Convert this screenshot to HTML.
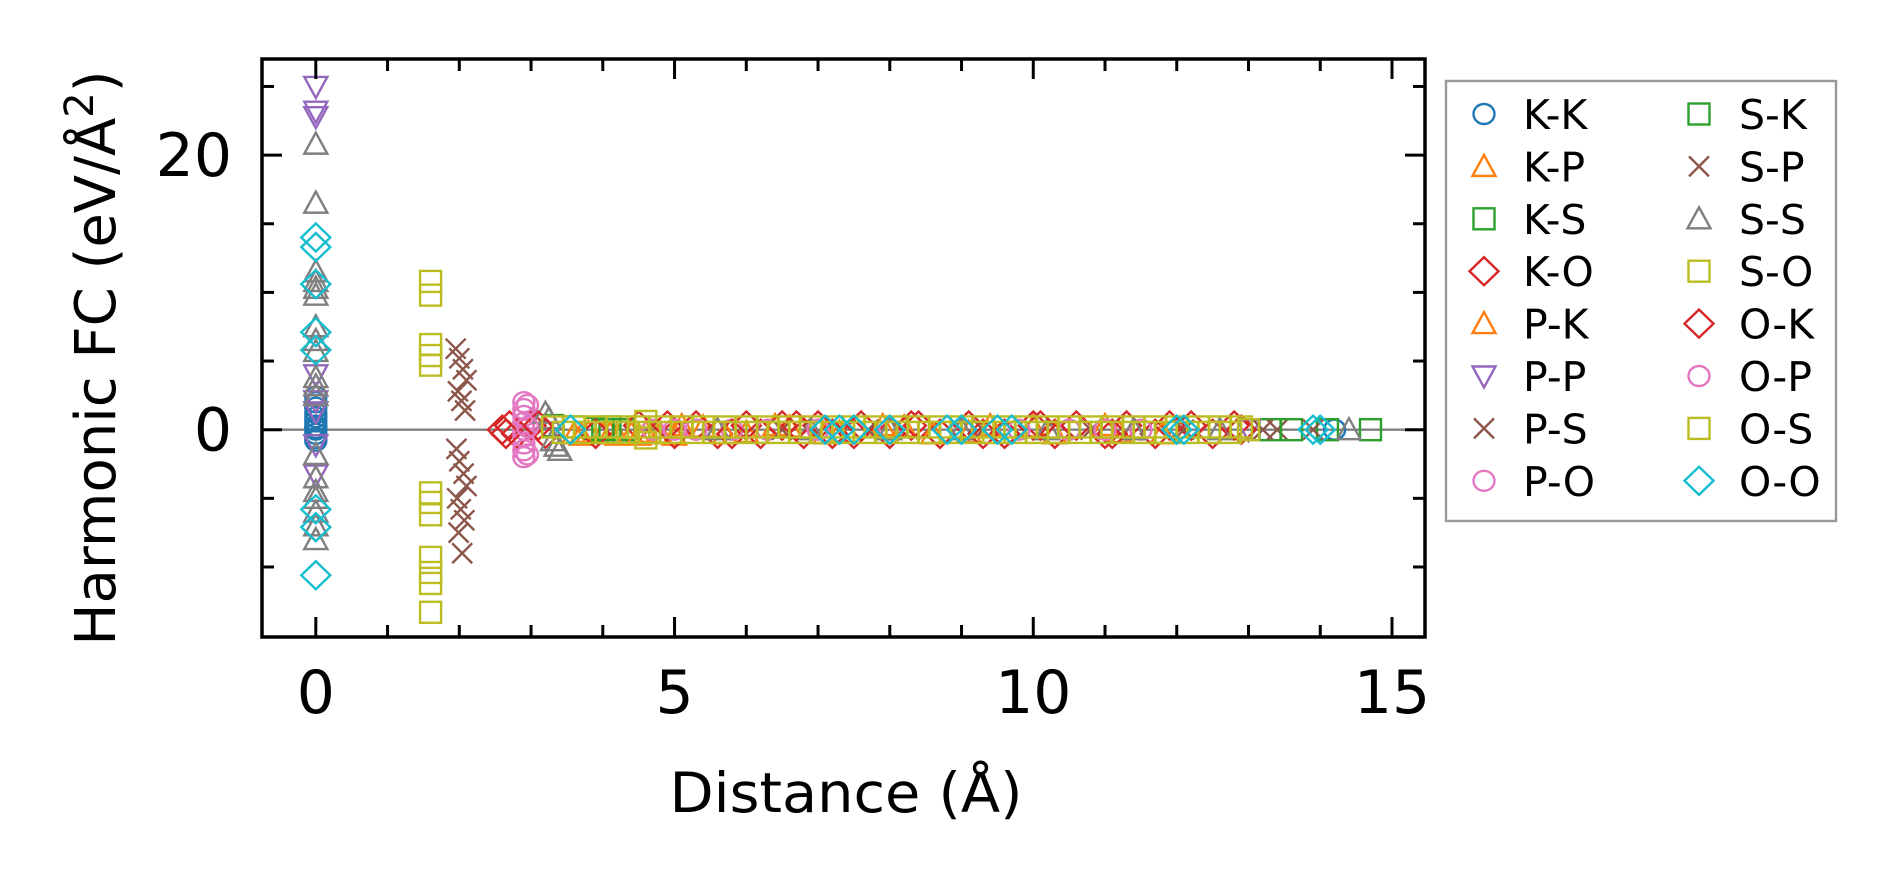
<!DOCTYPE html>
<html><head><meta charset="utf-8"><style>
html,body{margin:0;padding:0;background:#fff;}
svg{display:block;font-family:"DejaVu Sans","Liberation Sans",sans-serif;}
</style></head><body>
<svg id="chart" width="1895" height="883" viewBox="0 0 1895 883" xmlns="http://www.w3.org/2000/svg">
<rect x="0" y="0" width="1895" height="883" fill="#fff"/>
<g id="marks"></g>
<g id="axes"></g>
<text x="846" y="812" font-size="55" text-anchor="middle" textLength="353" lengthAdjust="spacingAndGlyphs">Distance (Å)</text>
<text transform="translate(115,358) rotate(-90)" font-size="56" text-anchor="middle">Harmonic FC (eV/Å<tspan dy="-22" font-size="40">2</tspan><tspan dy="22">)</tspan></text>
<g id="legend"></g>
</svg>
<script>
// ---- data ----
const xTicksMajor=[0,5,10,15];
const xTickLabels=["0","5","10","15"];
const yTicksMajor=[0,20];
const yTickLabels=["0","20"];
const legendNames=["K-K","K-P","K-S","K-O","P-K","P-P","P-S","P-O","S-K","S-P","S-S","S-O","O-K","O-P","O-S","O-O"];

const kkX=[0,0,0,0,0,0,0,0,0,0,0,0,14.2];
const kkY=[2.4,2.0,1.6,1.2,0.9,0.6,0.3,0,-0.3,-0.6,-0.8,0.1,0];
const kpX=[3.6,3.8,4.0,4.2,4.4,4.6,4.8,5.0,5.4,6.0,6.6,7.3,8.2,9.1,10.0,11.2];
const kpY=[-0.3,-0.2,-0.3,-0.4,-0.3,-0.2,-0.3,-0.4,0.2,-0.2,0.2,-0.2,0.2,-0.2,0.2,-0.2];
const ksX=[3.3,3.6,3.9,4.1,4.3,13.3];
const ksY=[0.3,0.2,0.1,0.2,0,0];
const koX=[2.6,2.7,2.8,3.0,3.2,4.5,5.0,5.3,5.6,6.0,6.2,6.5,6.8,7.0,7.2,7.6,8.0,8.4,8.7,9.1,9.6,10.0,10.3,10.6,11.0,11.3,11.7,12.2,12.5,12.8];
const koY=[0,0.3,-0.3,0.3,-0.3,0.3,-0.3,0.3,-0.3,0.3,-0.3,0.3,-0.3,0.3,-0.3,0.3,-0.3,0.3,-0.3,0.3,-0.3,0.3,-0.3,0.3,-0.3,0.3,-0.3,0.3,-0.3,0.3];
const pkX=[3.7,4.1,4.5,5.1,5.7,6.4,7.1,7.9,8.6,9.4,10.3,11.0,11.8];
const pkY=[-0.4,-0.3,-0.4,0.3,-0.3,0.3,-0.3,0.3,-0.3,0.3,-0.3,0.3,-0.3];
const ppX=[0,0,0,0,0,0,0,0,13.0];
const ppY=[25,23.2,22.8,4.0,2.1,1.3,-1.1,-3.3,0];
const psX=[1.95,2.0,2.05,2.1,1.98,2.03,2.08,1.96,2.0,2.06,2.1,1.97,2.02,2.07,1.99,2.04,13.4];
const psY=[5.9,5.2,4.4,3.6,2.8,2.1,1.4,-1.4,-2.3,-3.2,-4.1,-5.0,-5.8,-6.6,-7.5,-9.0,0];
const poX=[2.9,2.9,2.9,2.9,2.9,2.9,2.9,2.9,2.9,4.7,5.3,5.8,6.3,8.0,9.0,10.5,11.5,12.0];
const poY=[2.0,1.5,1.0,0.5,0,-0.5,-1.0,-1.5,-2.0,0,0,0,0,0,0,0,0,0];
const skX=[4.0,13.6,14.1,14.7];
const skY=[0,0,0,0];
const spX=[6.5,7.7,9.3,10.8,12.1,13.2,13.9];
const spY=[0,0,0,0,0,0,0];
const ssX=[0,0,0,0,0,0,0,0,0,0,0,0,0,0,0,0,0,0,0,3.2,3.25,3.3,3.35,3.4,5.6,6.9,8.0,9.0,10.2,11.4,12.6,14.4];
const ssY=[20.8,16.5,11.5,10.8,10.3,9.8,7.5,6.5,5.7,3.8,3.2,2.5,-1.8,-3.5,-4.5,-5.0,-6.0,-7.0,-8.0,1.2,0.8,-0.8,-1.2,-1.5,0,0,0,0,0,0,0,0];
const soX=[1.6,1.6,1.6,1.6,1.6,1.6,1.6,1.6,1.6,1.6,1.6,1.6,4.6,4.6];
const soY=[10.8,9.8,6.2,5.4,4.7,-4.6,-5.3,-6.2,-9.3,-10.4,-11.2,-13.3,0.6,-0.6];
const okX=[2.65,3.1,3.9,4.9,5.8,6.7,7.5,8.3,9.3,10.1,11.1,11.9,12.9];
const okY=[-0.3,0.3,-0.3,0.3,-0.3,0.3,-0.3,0.3,-0.3,0.3,-0.3,0.3,0];
const opX=[2.95,2.95,2.95,5.0,7.0,9.8,11.0];
const opY=[1.8,-1.8,0.2,0,0,0,0];
const osX=[3.3,3.45,3.6,3.75,3.9,4.05,4.2,4.35,4.5,4.65,4.8,4.95,5.1,5.25,5.4,5.55,5.7,5.85,6.0,6.15,6.3,6.45,6.6,6.75,6.9,7.05,7.2,7.35,7.5,7.65,7.8,7.95,8.1,8.25,8.4,8.55,8.7,8.85,9.0,9.15,9.3,9.45,9.6,9.75,9.9,10.05,10.2,10.35,10.5,10.65,10.8,10.95,11.1,11.25,11.4,11.55,11.7,11.85,12.0,12.15,12.3,12.45,12.6,12.75,12.9,13.0];
const osY=[0.2,-0.2,0.2,-0.2,0.2,-0.2,0.2,-0.2,0.2,-0.2,0.2,-0.2,0.2,-0.2,0.2,-0.2,0.2,-0.2,0.2,-0.2,0.2,-0.2,0.2,-0.2,0.2,-0.2,0.2,-0.2,0.2,-0.2,0.2,-0.2,0.2,-0.2,0.2,-0.2,0.2,-0.2,0.2,-0.2,0.2,-0.2,0.2,-0.2,0.2,-0.2,0.2,-0.2,0.2,-0.2,0.2,-0.2,0.2,-0.2,0.2,-0.2,0.2,-0.2,0.2,-0.2,0.2,-0.2,0.2,-0.2,0.2,0];
const ooX=[0,0,0,0,0,0,0,0,3.55,7.1,7.3,7.5,8.0,8.8,9.0,9.5,9.7,12.0,12.1,13.9,14.0];
const ooY=[14.0,13.3,10.6,7.1,5.8,-5.8,-7.1,-10.6,0,0,0,0,0,0,0,0,0,0,0,0,0];

// ---- layout ----
const L=262,R=1425,T=59,B=637;
const xMin=-0.75,xMax=15.46,yMin=-15.1,yMax=27.0;
function sx(v){return L+(v-xMin)/(xMax-xMin)*(R-L);}
function sy(v){return B-(v-yMin)/(yMax-yMin)*(B-T);}
const NS="http://www.w3.org/2000/svg";
function mk(tag,attrs,parent){const e=document.createElementNS(NS,tag);for(const k in attrs)e.setAttribute(k,attrs[k]);parent.appendChild(e);return e;}

const colors={blue:"#1f77b4",orange:"#ff7f0e",green:"#2ca02c",red:"#d62728",purple:"#9467bd",brown:"#8c564b",pink:"#e377c2",gray:"#7f7f7f",olive:"#bcbd22",cyan:"#17becf"};
function marker(g,type,cx,cy,col){
  let e;
  const st={fill:"none",stroke:col,"stroke-width":2.4};
  if(type==="o"){e=mk("ellipse",Object.assign({cx:cx,cy:cy,rx:10.5,ry:10},st),g);}
  else if(type==="s"){e=mk("rect",Object.assign({x:cx-10.5,y:cy-10.5,width:21,height:21},st),g);}
  else if(type==="D"){e=mk("polygon",Object.assign({points:`${cx-14.5},${cy} ${cx},${cy-14} ${cx+14.5},${cy} ${cx},${cy+14}`},st),g);}
  else if(type==="^"){e=mk("polygon",Object.assign({points:`${cx-11.5},${cy+9.5} ${cx+11.5},${cy+9.5} ${cx},${cy-11.5}`},st),g);}
  else if(type==="v"){e=mk("polygon",Object.assign({points:`${cx-11.5},${cy-9.5} ${cx+11.5},${cy-9.5} ${cx},${cy+11.5}`},st),g);}
  else {e=mk("path",Object.assign({d:`M${cx-10},${cy-10}L${cx+10},${cy+10}M${cx-10},${cy+10}L${cx+10},${cy-10}`},st),g);}
  return e;
}
const series=[
 [kkX,kkY,"o","blue"],[kpX,kpY,"^","orange"],[ksX,ksY,"s","green"],[koX,koY,"D","red"],
 [pkX,pkY,"^","orange"],[ppX,ppY,"v","purple"],[psX,psY,"x","brown"],[poX,poY,"o","pink"],
 [skX,skY,"s","green"],[spX,spY,"x","brown"],[ssX,ssY,"^","gray"],[soX,soY,"s","olive"],
 [okX,okY,"D","red"],[opX,opY,"o","pink"],[osX,osY,"s","olive"],[ooX,ooY,"D","cyan"]
];
const marks=document.getElementById("marks");
const zl=mk("line",{x1:L,x2:R,y1:sy(0),y2:sy(0),stroke:"#808080","stroke-width":2.4},marks);


series.forEach((s,i)=>{
  const g=mk("g",{},marks);
  
  
  s[0].forEach((xv,j)=>{
    const m=marker(g,s[2],sx(xv),sy(s[1][j]),colors[s[3]]);
    
    
  });
});
const ax=document.getElementById("axes");
const frame=mk("rect",{x:L,y:T,width:R-L,height:B-T,fill:"none",stroke:"#000","stroke-width":3.5},ax);


for(let v=0;v<=15;v++){
  const len=(v%5===0)?20:12;
  const x=sx(v);
  mk("line",{x1:x,x2:x,y1:B,y2:B-len,stroke:"#000","stroke-width":3},ax);
  mk("line",{x1:x,x2:x,y1:T,y2:T+len,stroke:"#000","stroke-width":3},ax);
}
for(let v=-10;v<=25;v+=5){
  const len=(v%20===0)?20:12;
  const y=sy(v);
  mk("line",{x1:L,x2:L+len,y1:y,y2:y,stroke:"#000","stroke-width":3},ax);
  mk("line",{x1:R,x2:R-len,y1:y,y2:y,stroke:"#000","stroke-width":3},ax);
}
xTicksMajor.forEach((v,i)=>{
  const t=mk("text",{x:sx(v),y:713,"font-size":60,"text-anchor":"middle"},ax);
  t.textContent=xTickLabels[i];
  
  
});
yTicksMajor.forEach((v,i)=>{
  const t=mk("text",{x:232,y:sy(v)+21,"font-size":60,"text-anchor":"end"},ax);
  t.textContent=yTickLabels[i];
  
  
});
const lg=document.getElementById("legend");
const box=mk("rect",{x:1446,y:81,width:390,height:440,fill:"#fff",stroke:"#999","stroke-width":2.4},lg);


series.forEach((s,i)=>{
  const col=Math.floor(i/8),row=i%8;
  const mx=col?1699:1484, tx=col?1739:1523, y=114+row*52.4;
  const g=mk("g",{},lg);
  
  
  marker(g,s[2],mx,y,colors[s[3]]);
  const t=mk("text",{x:tx,y:y+15,"font-size":41},g);
  t.textContent=legendNames[i];
});
</script>
</body></html>
